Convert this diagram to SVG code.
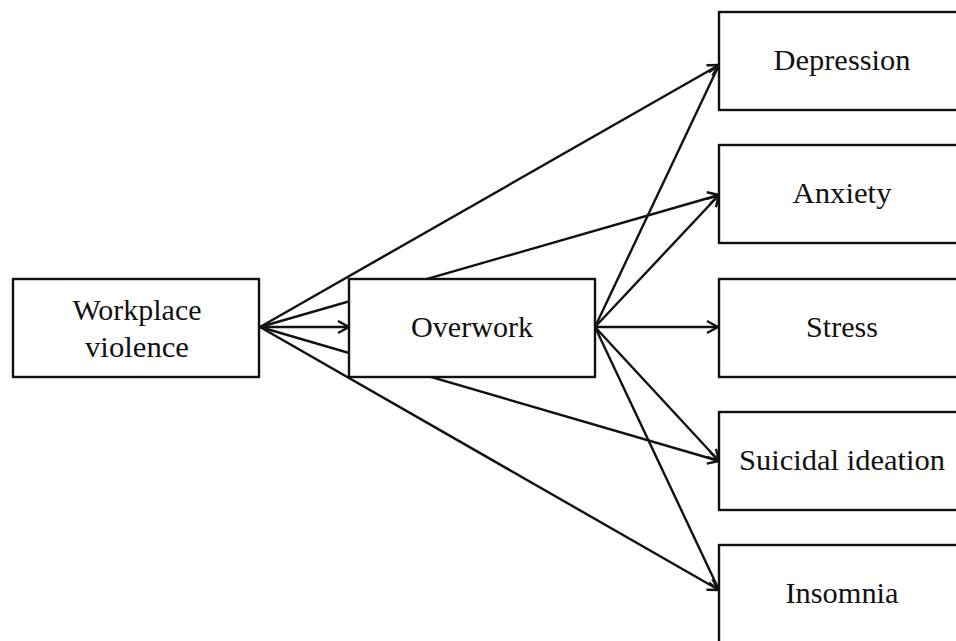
<svg xmlns="http://www.w3.org/2000/svg" width="956" height="641" viewBox="0 0 956 641">
  <style>
    .box { fill: #ffffff; stroke: #111111; stroke-width: 2.4; }
    .lbl { font-family: "Liberation Serif", "Times New Roman", serif; font-size: 29px; fill: #111111; text-anchor: middle; }
    .edge { stroke: #111111; stroke-width: 2.4; fill: none; marker-end: url(#arrow); }
  </style>
  <defs>
    <marker id="arrow" markerUnits="userSpaceOnUse" markerWidth="24" markerHeight="24" viewBox="-12 -12 24 24" refX="0" refY="0" orient="auto" overflow="visible">
      <path d="M-11,-6 L0,0 L-11,6" fill="none" stroke="#111111" stroke-width="2.4" stroke-linejoin="miter"/>
    </marker>
  </defs>
  <rect width="956" height="641" fill="#ffffff"/>
  <g id="connectors">
    <line class="edge" x1="260" y1="327" x2="719" y2="65"/>
    <line class="edge" x1="260" y1="327" x2="719" y2="195"/>
    <line class="edge" x1="260" y1="327" x2="349" y2="327"/>
    <line class="edge" x1="260" y1="327" x2="719" y2="461"/>
    <line class="edge" x1="260" y1="327" x2="719" y2="590"/>
    <line class="edge" x1="595" y1="327" x2="719" y2="65"/>
    <line class="edge" x1="595" y1="327" x2="719" y2="195"/>
    <line class="edge" x1="595" y1="327" x2="718" y2="327"/>
    <line class="edge" x1="595" y1="327" x2="719" y2="461"/>
    <line class="edge" x1="595" y1="327" x2="719" y2="590"/>
  </g>
  <g id="node-workplace-violence">
    <rect class="box" x="13" y="279" width="246" height="98"/>
    <text class="lbl" x="137" y="320" textLength="129" lengthAdjust="spacingAndGlyphs">Workplace</text>
    <text class="lbl" x="137" y="357" textLength="104" lengthAdjust="spacingAndGlyphs">violence</text>
  </g>
  <g id="node-overwork">
    <rect class="box" x="349" y="279" width="246" height="98"/>
    <text class="lbl" x="472" y="337" textLength="122" lengthAdjust="spacingAndGlyphs">Overwork</text>
  </g>
  <g id="node-depression">
    <rect class="box" x="719" y="12" width="250" height="98"/>
    <text class="lbl" x="842" y="70" textLength="137" lengthAdjust="spacingAndGlyphs">Depression</text>
  </g>
  <g id="node-anxiety">
    <rect class="box" x="719" y="145" width="250" height="98"/>
    <text class="lbl" x="842" y="203" textLength="99" lengthAdjust="spacingAndGlyphs">Anxiety</text>
  </g>
  <g id="node-stress">
    <rect class="box" x="719" y="279" width="250" height="98"/>
    <text class="lbl" x="842" y="337" textLength="72" lengthAdjust="spacingAndGlyphs">Stress</text>
  </g>
  <g id="node-suicidal-ideation">
    <rect class="box" x="719" y="412" width="250" height="98"/>
    <text class="lbl" x="842" y="470" textLength="206" lengthAdjust="spacingAndGlyphs">Suicidal ideation</text>
  </g>
  <g id="node-insomnia">
    <rect class="box" x="719" y="545" width="250" height="98"/>
    <text class="lbl" x="842" y="603" textLength="113" lengthAdjust="spacingAndGlyphs">Insomnia</text>
  </g>
</svg>
